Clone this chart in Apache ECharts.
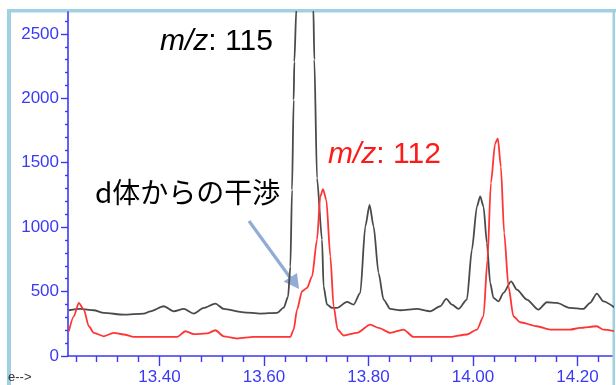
<!DOCTYPE html>
<html>
<head>
<meta charset="utf-8">
<script src="https://cdn.jsdelivr.net/npm/echarts@6/dist/echarts.min.js"></script>
<style>
html,body{margin:0;padding:0;background:#fff;}
#c{width:616px;height:385px;}
</style>
</head>
<body>
<div id="c"></div>
<script>
// ---- data (retention time in min, intensity) ----
var t115 = [13.2266,13.2489,13.2744,13.2935,13.3317,13.3700,13.3828,13.4082,13.4273,13.4465,13.4656,13.4847,13.5071,13.5229,13.5612,13.5931,13.6250,13.6377,13.6461,13.6505,13.6537,13.6568,13.6581,13.6620,13.6700,13.6860,13.6945,13.6964,13.7015,13.7111,13.7141,13.7207,13.7302,13.7398,13.7589,13.7715,13.7843,13.7939,13.8021,13.8098,13.8193,13.8289,13.8417,13.8608,13.8927,13.9182,13.9373,13.9488,13.9597,13.9723,13.9883,13.9979,14.0075,14.0138,14.0201,14.0266,14.0329,14.0392,14.0488,14.0583,14.0730,14.0839,14.1031,14.1252,14.1413,14.1604,14.1858,14.2113,14.2241,14.2369,14.2495,14.2719];
var v115 = [355,365,355,335,321,329,347,386,347,365,329,373,407,365,339,329,335,375,461,693,1290,1987,2283,2700,4000,4000,2700,2300,1380,902,540,399,373,373,420,399,490,1005,1173,1005,644,438,365,355,365,347,386,443,399,365,438,825,1160,1238,1160,877,567,451,424,490,579,515,438,360,417,412,373,365,412,484,424,373];
var t112 = [13.2266,13.2361,13.2457,13.2553,13.2648,13.2744,13.2935,13.3126,13.3317,13.3509,13.4338,13.4497,13.4656,13.4912,13.5071,13.5229,13.5486,13.5803,13.6505,13.6568,13.6633,13.6728,13.6824,13.6920,13.7015,13.7078,13.7130,13.7193,13.7270,13.7333,13.7409,13.7524,13.7780,13.8034,13.8193,13.8417,13.8671,13.8862,13.9182,13.9564,13.9883,14.0075,14.0201,14.0277,14.0342,14.0424,14.0476,14.0533,14.0597,14.0679,14.0774,14.0902,14.1222,14.1476,14.1858,14.2049,14.2369,14.2495,14.2719];
var v112 = [192,308,412,360,231,180,153,180,167,148,148,192,170,175,200,153,136,148,148,205,360,502,528,618,902,1238,1295,1212,773,386,205,159,180,244,218,180,205,148,148,148,167,205,308,747,1341,1651,1689,1470,954,540,308,262,231,205,205,218,231,205,192];

var xMajorTicks = [13.40,13.60,13.80,14.00,14.20];
var xMinorTicks = [13.24,13.28,13.32,13.36,13.44,13.48,13.52,13.56,13.64,13.68,13.72,13.76,13.84,13.88,13.92,13.96,14.04,14.08,14.12,14.16,14.24];
var yMajorTicks = [0,500,1000,1500,2000,2500];
var yMinorTicks = [100,200,300,400,600,700,800,900,1100,1200,1300,1400,1600,1700,1800,1900,2100,2200,2300,2400,2600];

var xMin = 13.225, xMax = 14.266, yMin = 0, yMax = 2670;

function pairs(t, v){ var out=[]; for (var i=0;i<t.length;i++) out.push([t[i], v[i]]); return out; }

var blue = '#3a3af5';
var chart = echarts.init(document.getElementById('c'), null, {renderer:'canvas'});

chart.setOption({
  animation:false,
  backgroundColor:'#ffffff',
  textStyle:{fontFamily:'Liberation Sans, Arial, sans-serif'},
  grid:{left:68, right:4, top:12, bottom:29, containLabel:false, outerBoundsMode:'none'},
  xAxis:[{
    type:'value', min:xMin, max:xMax, position:'bottom',
    axisLine:{show:true, onZero:false, lineStyle:{color:blue, width:1.6}},
    axisTick:{show:true, length:10, customValues:xMajorTicks, lineStyle:{color:blue, width:1.4}},
    axisLabel:{show:true, customValues:xMajorTicks, margin:13, color:blue, fontSize:17, fontFamily:'Liberation Sans',
      formatter:function(v){return v.toFixed(2);}},
    splitLine:{show:false}
  },{
    type:'value', min:xMin, max:xMax, position:'bottom',
    axisLine:{show:false, onZero:false},
    axisTick:{show:true, length:6, customValues:xMinorTicks, lineStyle:{color:blue, width:1.4}},
    axisLabel:{show:false},
    splitLine:{show:false}
  }],
  yAxis:[{
    type:'value', min:yMin, max:yMax, position:'left',
    axisLine:{show:true, onZero:false, lineStyle:{color:blue, width:1.6}},
    axisTick:{show:true, length:7, customValues:yMajorTicks, lineStyle:{color:blue, width:1.4}},
    axisLabel:{show:true, customValues:yMajorTicks, margin:9, color:blue, fontSize:17, fontFamily:'Liberation Sans',
      formatter:function(v){return String(v);}},
    splitLine:{show:false}
  },{
    type:'value', min:yMin, max:yMax, position:'left',
    axisLine:{show:false, onZero:false},
    axisTick:{show:true, length:3, customValues:yMinorTicks, lineStyle:{color:blue, width:1.4}},
    axisLabel:{show:false},
    splitLine:{show:false}
  }],
  series:[{
    name:'m/z 115', type:'line', xAxisIndex:0, yAxisIndex:0,
    data:pairs(t115, v115), showSymbol:false, symbol:'none', clip:true,
    smooth:0.25, smoothMonotone:'x',
    lineStyle:{color:'#4a4a4a', width:1.8}
  },{
    name:'m/z 112', type:'line', xAxisIndex:0, yAxisIndex:0,
    data:pairs(t112, v112), showSymbol:false, symbol:'none', clip:true,
    smooth:0.25, smoothMonotone:'x',
    lineStyle:{color:'#ff3535', width:1.8}
  }],
  graphic:[
    {type:'rect', shape:{x:7, y:9, width:4, height:376}, style:{fill:'#9fd1e2'}, silent:true},
    {type:'rect', shape:{x:7, y:9, width:609, height:3.5}, style:{fill:'#9fd1e2'}, silent:true},
    {type:'rect', shape:{x:612.5, y:9, width:2.5, height:376}, style:{fill:'#9fd1e2'}, silent:true},
    {type:'text', x:8, y:371, style:{text:'e-->', fill:'#333', fontSize:13, fontFamily:'Liberation Sans'}, silent:true},
    {type:'text', x:160, y:27, style:{
      text:'{i|m/z}{n|: 115}', fill:'#000',
      rich:{i:{fontStyle:'italic', fontSize:30, fontFamily:'Liberation Sans', fill:'#000'},
            n:{fontSize:30, fontFamily:'Liberation Sans', fill:'#000'}}}},
    {type:'text', x:328, y:140, style:{
      text:'{i|m/z}{n|: 112}', fill:'#ff1a1a',
      rich:{i:{fontStyle:'italic', fontSize:30, fontFamily:'Liberation Sans', fill:'#ff1a1a'},
            n:{fontSize:30, fontFamily:'Liberation Sans', fill:'#ff1a1a'}}}},
    {type:'text', x:95, y:178, style:{text:'d体からの干渉', fill:'#000', fontSize:28, fontFamily:'Noto Sans CJK JP'}},
    {type:'line', shape:{x1:249, y1:221, x2:294, y2:283}, style:{stroke:'#92acd4', lineWidth:3.2}},
    {type:'polygon', shape:{points:[[299,289],[283.5,281.5],[297,273]]}, style:{fill:'#92acd4'}}
  ]
});
</script>
</body>
</html>
